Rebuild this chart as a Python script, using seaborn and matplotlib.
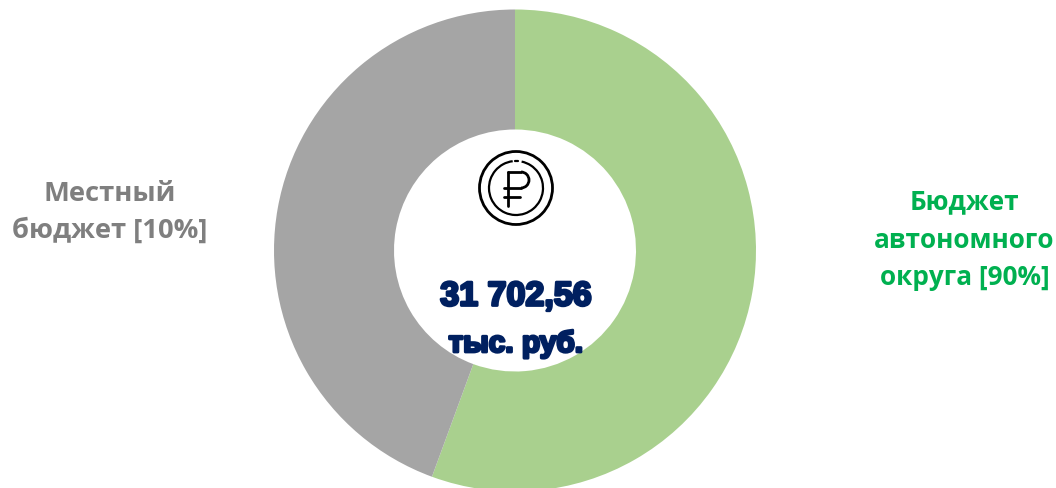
import matplotlib
matplotlib.use('Agg')
import matplotlib.pyplot as plt
import matplotlib.patches as mpatches
import matplotlib.patheffects as pe
import seaborn as sns

# --- Data (slices are not drawn to the label percentages) ---
categories = ['Бюджет\nавтономного\nокруга [90%]', 'Местный\nбюджет [10%]']
slice_values = [55.6, 44.4]
slice_colors = ['#A9D08E', '#A5A5A5']
label_colors = ['#00B050', '#7F7F7F']
total_lines = ['31 702,56', 'тыс. руб.']
NAVY = '#002060'

sns.set_theme(style='white')
plt.rcParams['font.family'] = ['Open Sans', 'DejaVu Sans']

fig = plt.figure(figsize=(10.56, 4.89), dpi=100)
ax = fig.add_axes([0, 0, 1, 1])

# Axes in pixel units so the ring can run off the bottom edge like the original
ax.pie(
    slice_values,
    colors=slice_colors,
    startangle=90,
    counterclock=False,
    center=(515, -251.5),
    radius=241,
    wedgeprops={'width': 120, 'linewidth': 0, 'edgecolor': 'none'},
    frame=True,
)
ax.set_xlim(0, 1056)
ax.set_ylim(-489, 0)
ax.set_aspect('equal')
ax.axis('off')

# Side labels
ax.text(964.5, -240, categories[0], color=label_colors[0], fontsize=18.8, fontweight='bold',
        ha='center', va='center', linespacing=1.52)
ax.text(109.5, -212.5, categories[1], color=label_colors[1], fontsize=19.7, fontweight='bold',
        ha='center', va='center', linespacing=1.5)

# Total in the middle, fattened to look like the heavy original face
heavy = [pe.withStroke(linewidth=2, foreground=NAVY)]
ax.text(516, -298, total_lines[0], color=NAVY, fontsize=24.5, fontweight='bold',
        family='Liberation Sans', ha='center', va='center', path_effects=heavy)
ax.text(516, -345, total_lines[1], color=NAVY, fontsize=21.5, fontweight='bold',
        family='Liberation Sans', ha='center', va='center', path_effects=heavy)

# --- Rouble coin icon ---
icon_x, icon_y = 516, -189
ax.add_patch(mpatches.Circle((icon_x, icon_y), 36.5, fill=False, ec='black', lw=2))
ax.add_patch(mpatches.Arc((icon_x, icon_y), 54, 54, theta1=97, theta2=78, ec='black', lw=1.6))
ax.plot([icon_x - 1.5, icon_x + 1.5], [icon_y + 27, icon_y + 27], color='black', lw=1.6)
ax.plot([508, 508], [-207, -173], color='black', lw=2, solid_capstyle='round')
ax.plot([508, 521], [-173, -173], color='black', lw=2)
ax.plot([504, 521], [-189, -189], color='black', lw=2, solid_capstyle='round')
ax.add_patch(mpatches.Arc((521, -181), 16, 16, theta1=-90, theta2=90, ec='black', lw=2))
ax.plot([504, 520], [-198, -198], color='black', lw=2, solid_capstyle='round')

plt.savefig('out.png', dpi=100)
